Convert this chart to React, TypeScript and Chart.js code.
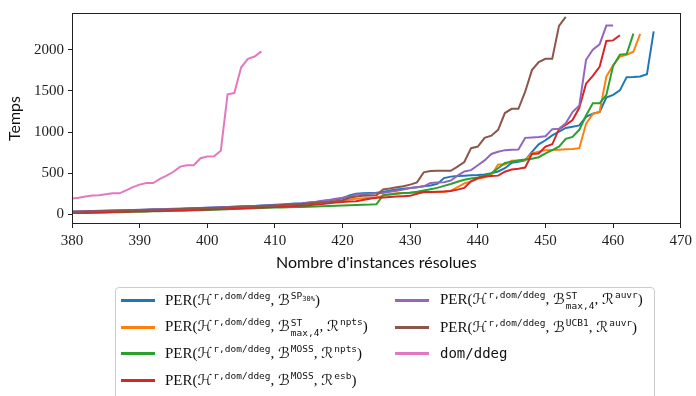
import React, { useEffect, useRef } from "react";
import { Chart, registerables } from "chart.js";

Chart.register(...registerables);

const X_START = 380;
const X_TICKS = [380, 390, 400, 410, 420, 430, 440, 450, 460, 470];
const Y_TICKS = [0, 500, 1000, 1500, 2000];

const blueSP30 = [
  30, 32, 34, 36, 38, 40, 42, 45, 48, 50, 53, 56, 58, 60, 62, 65, 68, 70, 73, 76,
  80, 82, 85, 88, 92, 95, 98, 102, 106, 110, 115, 120, 125, 130, 135, 142, 150, 160, 170, 180,
  195, 230, 250, 255, 258, 262, 270, 290, 300, 310, 320, 330, 340, 350, 369, 440, 458, 465, 470, 475,
  478, 485, 498, 520, 560, 625, 640, 655, 760, 850, 900, 960, 1005, 1050, 1065, 1080, 1184, 1224, 1243, 1420,
  1451, 1506, 1667, 1670, 1675, 1702, 2224,
];
const orangeSTnpts = [
  20, 22, 24, 26, 28, 30, 32, 34, 37, 40, 42, 44, 46, 48, 50, 53, 56, 58, 60, 63,
  66, 69, 72, 75, 78, 80, 84, 88, 92, 96, 100, 105, 110, 115, 120, 125, 135, 142, 150, 158,
  165, 180, 190, 195, 200, 205, 230, 245, 255, 260, 263, 265, 267, 268, 270, 275, 285, 330, 375, 400,
  431, 450, 478, 604, 604, 650, 655, 660, 741, 760, 780, 782, 785, 790, 795, 804, 1100, 1220, 1243, 1675,
  1812, 1918, 1940, 1976, 2192,
];
const greenMOSSnpts = [
  15, 16, 17, 18, 20, 22, 24, 26, 28, 30, 32, 34, 36, 38, 40, 42, 44, 46, 48, 50,
  53, 56, 59, 62, 65, 68, 71, 74, 77, 80, 82, 84, 86, 88, 90, 92, 95, 98, 100, 103,
  106, 110, 113, 116, 118, 122, 231, 240, 250, 258, 263, 275, 290, 305, 321, 345, 369, 395, 420, 435,
  447, 470, 498, 560, 623, 640, 655, 665, 675, 694, 740, 780, 823, 918, 941, 1027, 1200, 1349, 1349, 1451,
  1804, 1941, 1949, 2196,
];
const redMOSSesb = [
  18, 19, 20, 22, 24, 26, 28, 30, 32, 34, 36, 38, 40, 42, 44, 46, 48, 50, 53, 56,
  59, 62, 65, 68, 71, 74, 77, 80, 83, 86, 90, 94, 98, 102, 106, 110, 118, 125, 135, 142,
  150, 155, 160, 175, 190, 200, 205, 210, 215, 220, 224, 250, 270, 272, 275, 278, 282, 300, 321, 400,
  440, 460, 465, 470, 518, 545, 555, 569, 733, 740, 823, 851, 1035, 1086, 1145, 1294, 1588, 1682, 1792, 2106,
  2114, 2176,
];
const purpleSTauvr = [
  35, 37, 39, 41, 43, 45, 47, 49, 51, 53, 56, 58, 60, 62, 64, 66, 68, 71, 74, 77,
  80, 83, 86, 89, 92, 95, 98, 101, 104, 107, 110, 115, 120, 125, 130, 140, 150, 165, 175, 190,
  200, 215, 240, 245, 250, 255, 260, 275, 285, 300, 320, 330, 340, 380, 385, 390, 410, 470, 520, 537,
  596, 655, 733, 760, 780, 785, 788, 929, 935, 940, 949, 1035, 1040, 1106, 1243, 1322, 1878, 2000, 2066, 2294,
  2294,
];
const brownUCB1auvr = [
  30, 32, 34, 36, 38, 40, 42, 44, 46, 48, 50, 52, 54, 56, 58, 60, 63, 66, 69, 72,
  75, 78, 81, 84, 88, 92, 95, 98, 101, 104, 107, 112, 117, 122, 126, 130, 140, 145, 150, 160,
  170, 200, 215, 225, 228, 230, 302, 315, 330, 340, 361, 388, 510, 525, 529, 529, 529, 580, 635, 804,
  823, 929, 956, 1027, 1231, 1282, 1282, 1490, 1753, 1851, 1890, 1890, 2290, 2400,
];
const pinkDomDdeg = [
  192, 200, 215, 227, 231, 243, 255, 255, 290, 330, 361, 380, 380, 431, 470, 517, 580, 596, 596, 682,
  702, 706, 773, 1459, 1474, 1784, 1890, 1918, 1980,
];

const SERIES = [
  { data: blueSP30, color: "#1f77b4" },
  { data: orangeSTnpts, color: "#ff7f0e" },
  { data: greenMOSSnpts, color: "#2ca02c" },
  { data: redMOSSesb, color: "#d62728" },
  { data: purpleSTauvr, color: "#9467bd" },
  { data: brownUCB1auvr, color: "#8c564b" },
  { data: pinkDomDdeg, color: "#e377c2" },
];

const SERIF = "'Liberation Serif', 'DejaVu Serif', serif";
const MONO = "'DejaVu Sans Mono', 'Liberation Mono', monospace";
const MATH = "'DejaVu Serif', 'DejaVu Sans', serif";
const SANS = "Lato, 'Open Sans', sans-serif";

const framePlugin = {
  id: "frame",
  afterDatasetsDraw(chart: any) {
    const { ctx, chartArea } = chart;
    ctx.save();
    ctx.strokeStyle = "#222";
    ctx.lineWidth = 1;
    ctx.strokeRect(
      Math.round(chartArea.left) + 0.5,
      Math.round(chartArea.top) + 0.5,
      Math.round(chartArea.right - chartArea.left) - 1,
      Math.round(chartArea.bottom - chartArea.top) - 1
    );
    ctx.restore();
  },
};

const Sup = ({ children }: any) => (
  <span style={{ fontFamily: MONO, fontSize: 9.5, position: "relative", top: -6, marginLeft: 1 }}>{children}</span>
);

const SupSub = ({ sup, sub }: any) => (
  <span
    style={{
      display: "inline-block",
      verticalAlign: -5,
      lineHeight: "10px",
      fontSize: 9.5,
      fontFamily: MONO,
      marginLeft: 1,
    }}
  >
    <span style={{ display: "block" }}>{sup}</span>
    <span style={{ display: "block" }}>{sub}</span>
  </span>
);

const M = ({ children }: any) => <span style={{ fontFamily: MATH, fontStyle: "normal" }}>{children}</span>;

const Hr = () => (
  <>
    <M>ℋ</M>
    <Sup>r,dom/ddeg</Sup>
  </>
);

const LEGEND_ITEMS: { color: string; col: number; row: number; label: any }[] = [
  {
    color: SERIES[0].color, col: 0, row: 0,
    label: (<>PER(<Hr />, <M>ℬ</M><Sup>SP<span style={{ fontSize: 7, position: "relative", top: 2 }}>30%</span></Sup>)</>),
  },
  {
    color: SERIES[1].color, col: 0, row: 1,
    label: (<>PER(<Hr />, <M>ℬ</M><SupSub sup="ST" sub="max,4" />, <M>ℛ</M><Sup>npts</Sup>)</>),
  },
  {
    color: SERIES[2].color, col: 0, row: 2,
    label: (<>PER(<Hr />, <M>ℬ</M><Sup>MOSS</Sup>, <M>ℛ</M><Sup>npts</Sup>)</>),
  },
  {
    color: SERIES[3].color, col: 0, row: 3,
    label: (<>PER(<Hr />, <M>ℬ</M><Sup>MOSS</Sup>, <M>ℛ</M><Sup>esb</Sup>)</>),
  },
  {
    color: SERIES[4].color, col: 1, row: 0,
    label: (<>PER(<Hr />, <M>ℬ</M><SupSub sup="ST" sub="max,4" />, <M>ℛ</M><Sup>auvr</Sup>)</>),
  },
  {
    color: SERIES[5].color, col: 1, row: 1,
    label: (<>PER(<Hr />, <M>ℬ</M><Sup>UCB1</Sup>, <M>ℛ</M><Sup>auvr</Sup>)</>),
  },
  {
    color: SERIES[6].color, col: 1, row: 2,
    label: <span style={{ fontFamily: MONO, fontSize: 14 }}>dom/ddeg</span>,
  },
];

export default function App() {
  const canvasRef = useRef<HTMLCanvasElement | null>(null);

  useEffect(() => {
    if (!canvasRef.current) return;
    const datasets = SERIES.map((s, i) => ({
      data: s.data.map((v, k) => ({ x: X_START + k, y: v })),
      borderColor: s.color,
      backgroundColor: s.color,
      borderWidth: 2,
      pointRadius: 0,
      tension: 0,
      fill: false,
      order: SERIES.length - i,
    }));
    const chart = new Chart(canvasRef.current, {
      type: "line",
      data: { datasets },
      plugins: [framePlugin],
      options: {
        animation: false,
        responsive: false,
        maintainAspectRatio: false,
        layout: { padding: { left: 0, top: 6, right: 9, bottom: 122 } },
        plugins: { legend: { display: false }, tooltip: { enabled: false } },
        scales: {
          x: {
            type: "linear",
            min: 380,
            max: 470,
            afterBuildTicks: (scale: any) => {
              scale.ticks = X_TICKS.map((v) => ({ value: v }));
            },
            afterFit: (scale: any) => {
              scale.height = 50;
            },
            border: { display: false },
            grid: { display: true, drawOnChartArea: false, drawTicks: true, tickLength: 4, tickColor: "#222" },
            ticks: {
              color: "#222",
              font: { family: SERIF, size: 15 },
              padding: 4,
              maxRotation: 0,
              callback: (v: any) => String(v),
            },
            title: {
              display: true,
              text: "Nombre d'instances résolues",
              color: "#111",
              font: { family: SANS, size: 16 },
              padding: { top: 2, bottom: 2 },
            },
          },
          y: {
            type: "linear",
            min: -118,
            max: 2447,
            afterBuildTicks: (scale: any) => {
              scale.ticks = Y_TICKS.map((v) => ({ value: v }));
            },
            afterFit: (scale: any) => {
              scale.width = 72;
            },
            border: { display: false },
            grid: { display: true, drawOnChartArea: false, drawTicks: true, tickLength: 4, tickColor: "#222" },
            ticks: {
              color: "#222",
              font: { family: SERIF, size: 15 },
              padding: 4,
              callback: (v: any) => String(v),
            },
            title: {
              display: true,
              text: "Temps",
              color: "#111",
              font: { family: SANS, size: 16 },
              padding: { top: 5, bottom: 0 },
            },
          },
        },
      },
    } as any);
    return () => chart.destroy();
  }, []);

  return (
    <div style={{ position: "fixed", left: 0, top: 0, width: 696, height: 396, background: "#fff", overflow: "hidden" }}>
      <canvas ref={canvasRef} width={696} height={396} style={{ position: "absolute", left: 0, top: 0 }} />
      <div
        style={{
          position: "absolute",
          left: 115,
          top: 287,
          width: 540,
          height: 130,
          border: "1px solid #cccccc",
          borderRadius: 4,
          background: "rgba(255,255,255,0.8)",
          boxSizing: "border-box",
        }}
      />
      {LEGEND_ITEMS.map((it, idx) => {
        const cy = 300 + it.row * 26.6;
        const sampleLeft = it.col === 0 ? 121 : 395;
        const textLeft = it.col === 0 ? 165 : 440;
        return (
          <React.Fragment key={idx}>
            <div
              style={{
                position: "absolute",
                left: sampleLeft,
                top: Math.round(cy) - 1,
                width: 34,
                height: 3,
                background: it.color,
              }}
            />
            <div
              style={{
                position: "absolute",
                left: textLeft,
                top: Math.round(cy) - 13,
                height: 26,
                display: "flex",
                alignItems: "center",
                whiteSpace: "nowrap",
                fontFamily: SERIF,
                fontSize: 15,
                color: "#111",
              }}
            >
              <span>{it.label}</span>
            </div>
          </React.Fragment>
        );
      })}
    </div>
  );
}
